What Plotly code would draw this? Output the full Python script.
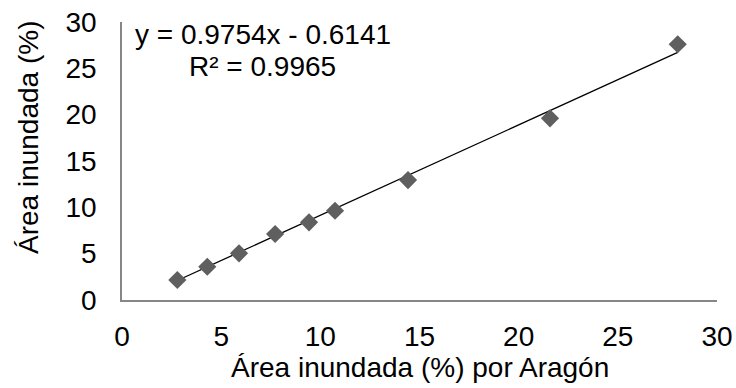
import plotly.graph_objects as go

# Data
x_aragon = [2.79, 4.30, 5.90, 7.72, 9.43, 10.74, 14.42, 21.58, 28.02]
y_area = [2.16, 3.59, 5.04, 7.12, 8.38, 9.63, 12.94, 19.6, 27.6]
slope = 0.9754
intercept = -0.6141
r2 = 0.9965

x_ticks = [0, 5, 10, 15, 20, 25, 30]
y_ticks = [0, 5, 10, 15, 20, 25, 30]

font_family = "Liberation Sans, Arial, sans-serif"
FS = 28

x_line = [min(x_aragon), max(x_aragon)]
y_line = [slope * v + intercept for v in x_line]

fig = go.Figure()
fig.add_trace(go.Scatter(
    x=x_line, y=y_line, mode="lines",
    line=dict(color="black", width=1.3),
    showlegend=False, hoverinfo="skip",
))
fig.add_trace(go.Scatter(
    x=x_aragon, y=y_area, mode="markers",
    marker=dict(symbol="diamond", size=14, color="#5f5f5f"),
    showlegend=False,
))

fig.add_annotation(
    x=7.1, y=28.7, xref="x", yref="y", xanchor="center", yanchor="middle",
    text=f"y = {slope}x - {abs(intercept)}",
    showarrow=False, font=dict(family=font_family, size=FS, color="black"),
)
fig.add_annotation(
    x=7.1, y=25.15, xref="x", yref="y", xanchor="center", yanchor="middle",
    text=f"R² = {r2}",
    showarrow=False, font=dict(family=font_family, size=FS, color="black"),
)
# axis titles
fig.add_annotation(
    x=0.5, y=0, xref="paper", yref="paper", xanchor="center", yanchor="middle",
    yshift=-67, text="Área inundada (%) por Aragón",
    showarrow=False, font=dict(family=font_family, size=FS, color="black"),
)
fig.add_annotation(
    x=0, y=0.5, xref="paper", yref="paper", xanchor="center", yanchor="middle",
    xshift=-94, yshift=23, textangle=-90, text="Área inundada (%)",
    showarrow=False, font=dict(family=font_family, size=FS, color="black"),
)

fig.update_layout(
    width=736, height=388,
    margin=dict(l=122, r=19, t=22, b=88),
    paper_bgcolor="white", plot_bgcolor="white",
    font=dict(family=font_family, size=FS, color="black"),
    xaxis=dict(
        range=[0, 30], tickvals=x_ticks, showgrid=False, zeroline=False,
        showline=True, linecolor="#868686", linewidth=1.5,
        ticks="", ticklabelstandoff=11, automargin=False,
        ticklabeloverflow="allow",
    ),
    yaxis=dict(
        range=[0, 30], tickvals=y_ticks, showgrid=False, zeroline=False,
        showline=True, linecolor="#868686", linewidth=1.5,
        ticks="", ticklabelstandoff=18, automargin=False,
        ticklabeloverflow="allow",
    ),
)

# remove the page's default body margin so the 736x388 figure fills the window
fig.write_html(
    "out.html",
    config={"displayModeBar": False},
    post_script="document.body.style.margin='0';document.body.style.overflow='hidden';",
)
